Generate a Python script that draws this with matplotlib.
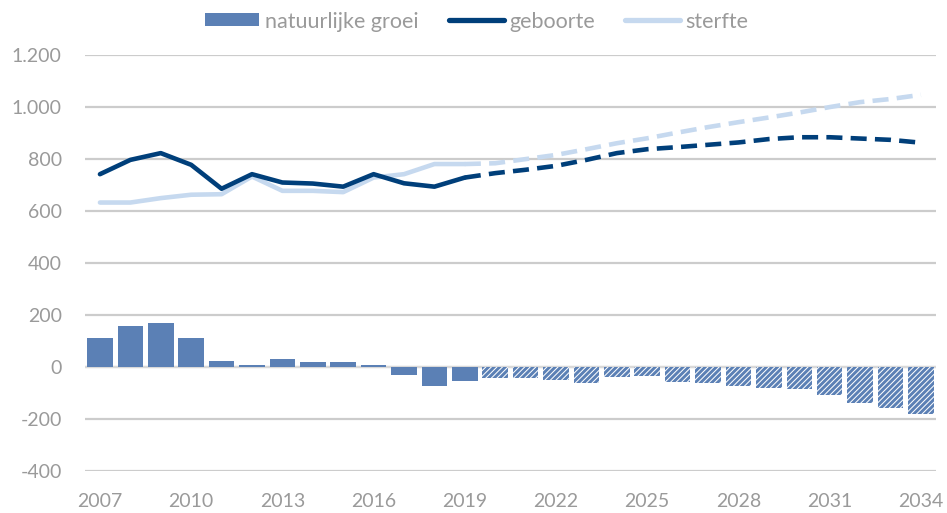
import matplotlib
matplotlib.use("Agg")
import matplotlib.pyplot as plt
from matplotlib.patches import Patch
from matplotlib.lines import Line2D
import numpy as np

plt.rcParams['font.family'] = ['Liberation Sans Narrow', 'Lato', 'DejaVu Sans']
plt.rcParams['hatch.linewidth'] = 2.1

years = list(range(2007, 2035))
geboorte = [741, 796, 822, 777, 685, 741, 709, 705, 693, 741, 706, 693, 728,
            745, 758, 773, 796, 822, 837, 845, 854, 863, 876, 883, 883, 878, 873, 862]
sterfte = [632, 632, 649, 662, 664, 732, 677, 677, 672, 728, 741, 780, 780,
           783, 799, 815, 837, 860, 879, 901, 922, 941, 959, 978, 999, 1018, 1030, 1046]
groei = [110, 159, 170, 110, 23, 8, 32, 18, 18, 8, -31, -75, -54,
         -42, -42, -49, -62, -40, -36, -56, -62, -72, -82, -86, -107, -140, -159, -180]
last_observed = 2019
yticks = [-400, -200, 0, 200, 400, 600, 800, 1000, 1200]
ytick_labels = ['-400', '-200', '0', '200', '400', '600', '800', '1.000', '1.200']
xtick_years = list(range(2007, 2035, 3))

bar_color = '#5B80B5'
dark = '#003F7A'
light = '#C6D9EF'
text_color = '#9A9A9A'
grid_color = '#CCCCCC'

fig = plt.figure(figsize=(9.47, 5.13), dpi=100)
ax = fig.add_axes([0.0895, 0.0819, 0.899, 0.8113])

x = np.arange(len(years))
obs = np.array(years) <= last_observed
for i in range(len(years)):
    if obs[i]:
        ax.bar(x[i], groei[i], width=0.84, color=bar_color, linewidth=0, zorder=2)
    else:
        ax.bar(x[i], groei[i], width=0.84, facecolor='white', edgecolor=bar_color,
               hatch='//////', linewidth=0, zorder=2)

io = years.index(last_observed)
ax.plot(x[:io + 1], geboorte[:io + 1], color=dark, lw=3.3, solid_capstyle='round',
        solid_joinstyle='round', zorder=4)
ax.plot(x[io:], geboorte[io:], color=dark, lw=3.3, dashes=(3.5, 1.8), zorder=4)
ax.plot(x[:io + 1], sterfte[:io + 1], color=light, lw=3.3, solid_capstyle='round',
        solid_joinstyle='round', zorder=3)
ax.plot(x[io:], sterfte[io:], color=light, lw=3.3, dashes=(3.5, 1.8), zorder=3)

ax.set_xlim(-0.5, len(years) - 0.5)
ax.set_ylim(-400, 1200)
ax.set_yticks(yticks)
ax.set_yticklabels(ytick_labels)
ax.set_xticks([years.index(y) for y in xtick_years])
ax.set_xticklabels([str(y) for y in xtick_years])
ax.tick_params(length=0, labelsize=14, colors=text_color)
ax.tick_params(axis='y', pad=16.5)
ax.tick_params(axis='x', pad=16)
for s in ax.spines.values():
    s.set_visible(False)
ax.yaxis.grid(True, color=grid_color, lw=1.6, zorder=0)
ax.axhline(0, color='#D9D9D9', lw=1.6, zorder=1)
ax.set_axisbelow(True)

handles = [Patch(facecolor=bar_color, edgecolor='none'),
           Line2D([0], [0], color=dark, lw=3.8, solid_capstyle='round'),
           Line2D([0], [0], color=light, lw=3.8, solid_capstyle='round')]
labels = ['natuurlijke groei', 'geboorte', 'sterfte']
fig.legend(handles, labels, loc='center', bbox_to_anchor=(0.503, 0.958), ncol=3,
           frameon=False, fontsize=15.5, labelcolor=text_color, handlelength=2.55,
           handletextpad=0.25, columnspacing=1.4, handleheight=0.55)

fig.savefig('out.png', dpi=100)
